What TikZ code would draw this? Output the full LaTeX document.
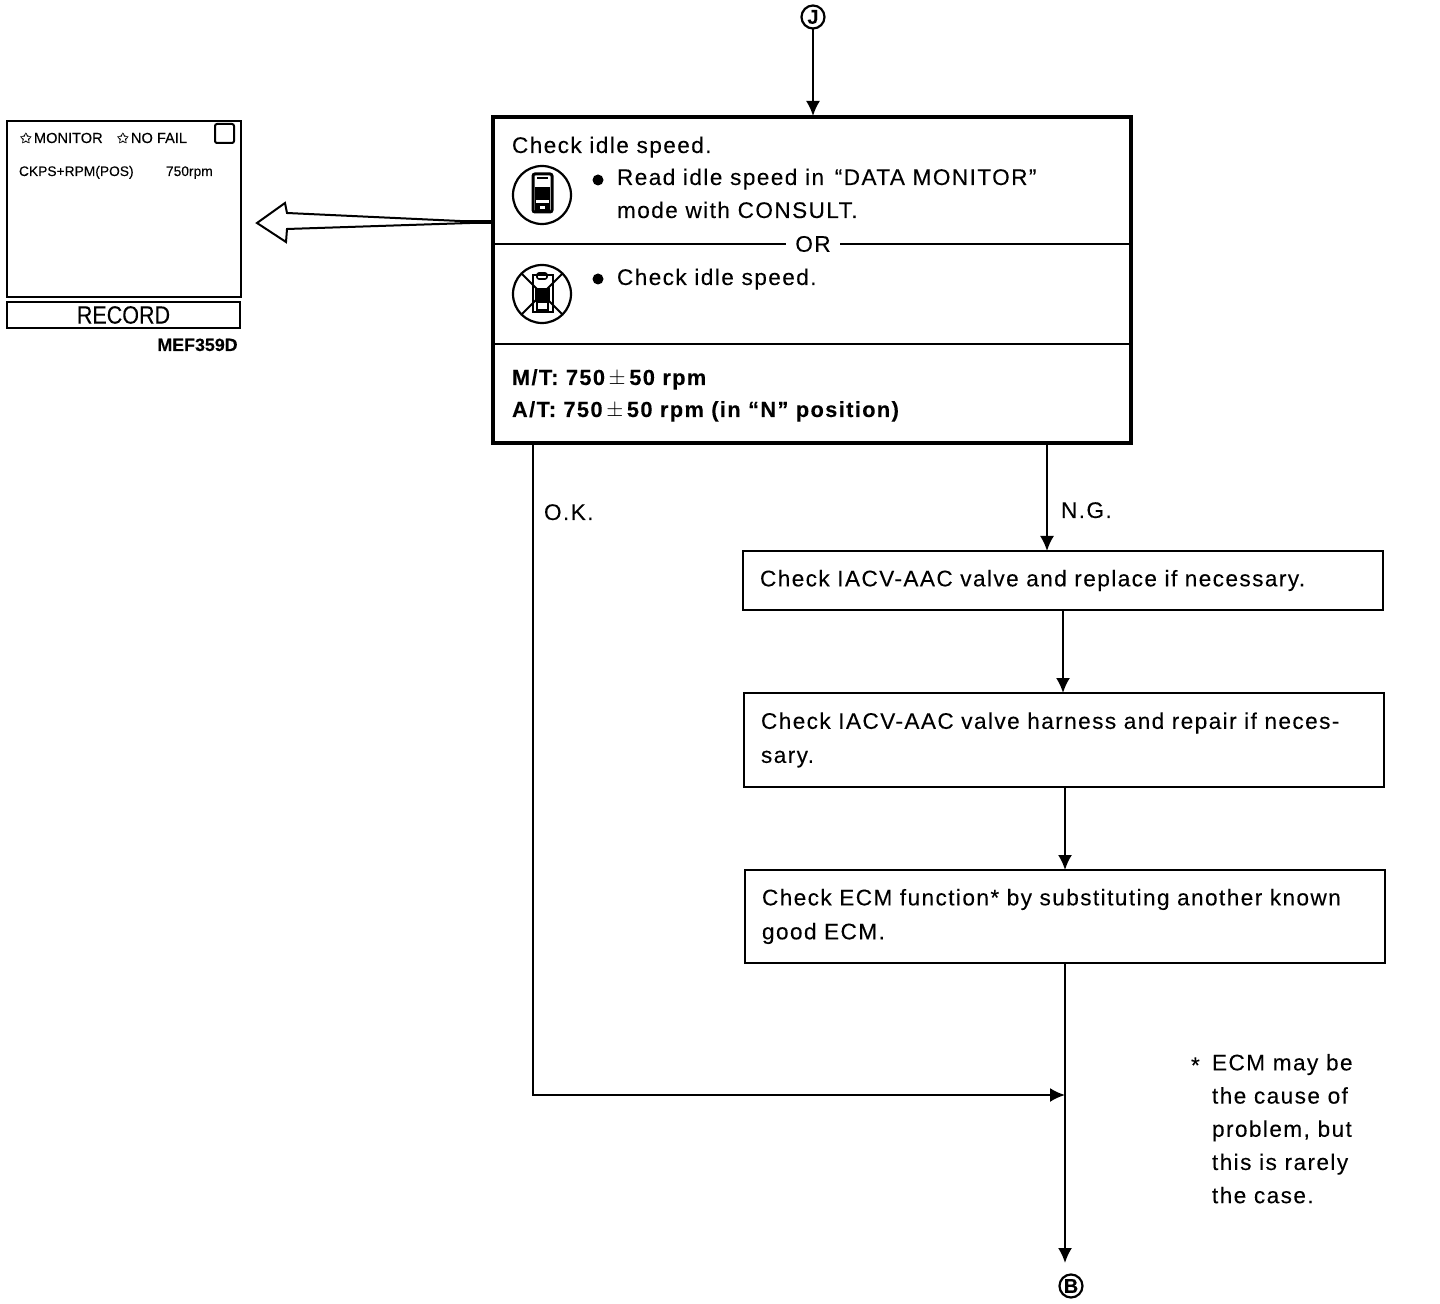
\documentclass[tikz,border=0pt]{standalone}
\usepackage{fontspec}
\setmainfont[LetterSpace=6.3,FakeBold=0.12]{Liberation Sans}
\newfontfamily\plainfont[FakeBold=0.1]{Liberation Sans}
\newfontfamily\symfont[FakeBold=0.3]{DejaVu Sans}
\usetikzlibrary{arrows.meta,calc}
\tikzset{
  flowbox/.style={draw=black,line width=1pt,fill=white,inner sep=0pt,outer sep=0pt,align=left,font=\fontsize{11.3}{17}\selectfont},
  lab/.style={anchor=base west,inner sep=0pt,outer sep=0pt,font=\fontsize{11.3}{17}\selectfont},
  boldlab/.style={lab,font=\fontsize{10.9}{16}\selectfont\bfseries},
  small/.style={anchor=base west,inner sep=0pt,outer sep=0pt,font=\plainfont\fontsize{7.3}{8}\selectfont},
  conn/.style={line width=1pt,-{Latex[length=7.5pt,width=7pt]}},
  plain/.style={line width=1pt},
  ring/.style={circle,draw=black,line width=1.1pt,inner sep=0pt,outer sep=0pt,minimum size=11.5pt,font=\plainfont\bfseries\fontsize{10}{10}\selectfont},
  icon/.style={circle,draw=black,line width=1.1pt,minimum size=29pt,inner sep=0pt,outer sep=0pt},
  bullet/.style={circle,fill=black,minimum size=5.5pt,inner sep=0pt,outer sep=0pt},
}
\begin{document}
\begin{tikzpicture}[x=0.5pt,y=-0.5pt]
\useasboundingbox (0,0) rectangle (1440,1304);
\fill[white] (0,0) rectangle (1440,1304);
% main box
\node[draw=black,line width=2pt,inner sep=0pt,outer sep=0pt,minimum width=319pt,minimum height=163pt] (main) at (812,280) {};
\coordinate (okstart) at (533,443);
\coordinate (ngstart) at (1047,443);
\coordinate (ngend) at (1047,551);
\coordinate (hollowstart) at (493,222);
\node[ring] (J) at (813,17) {J};
\draw[conn] (J) -- (813,116);
% dividers
\coordinate (divL) at (493,244);
\coordinate (divR) at (1131,244);
\coordinate (div2L) at (493,344);
\coordinate (div2R) at (1131,344);
\draw[plain] (divL) -- (divR);
\draw[plain] (div2L) -- (div2R);
\node[fill=white,inner sep=0pt,minimum width=27pt,minimum height=8pt,font=\fontsize{11.3}{12}\selectfont] (or) at (813,244) {OR};
\node[lab] (t1) at (512,153) {Check idle speed.};
\node[bullet] (b1) at (598,180) {};
\node[lab] (t2) at (617,185) {Read idle speed in \kern1.5pt“DATA MONITOR”\kern1pt};
\node[lab] (t3) at (617,218) {mode with CONSULT.};
\node[bullet] (b2) at (598,279) {};
\node[lab] (t4) at (617,285) {Check idle speed.};
\node[boldlab] (t5) at (512,385) {M/T: 750\,$\pm$\,50 rpm};
\node[boldlab] (t6) at (512,417) {A/T: 750\,$\pm$\,50 rpm (in “N” position)};
% icons
\node[icon] (ic1) at (542,195) {};
\draw[line width=1.5pt,fill=white,rounded corners=1pt] (533,174) rectangle (552,212);
\fill[black] (535,187) rectangle (550,212);
\fill[white] (536,200) rectangle (549,203);
\fill[white] (540,206) rectangle (545,209);
\draw[line width=.6pt] (537,178) -- (548,178);
\node[icon] (ic2) at (542,294) {};
\draw[line width=.6pt] (533,275) rectangle (553,312);
\fill[black] (535,288) rectangle (550,302);
\draw[line width=.9pt] (537,302) rectangle (548,310);
\draw[line width=.8pt,rounded corners=1pt] (537,273) rectangle (547,279);
\draw[line width=1pt] (ic2.north west) -- (ic2.south east);
\draw[line width=1pt] (ic2.north east) -- (ic2.south west);
% hollow arrow
\draw[line width=1pt,fill=white,line join=miter] (hollowstart) -- (460,221) -- (287,213) -- (285,203) -- (257,223) -- (286,242) -- (287,229) -- (470,223) -- cycle;
\draw[line width=1.6pt] (460,222) -- (hollowstart);
% screen
\node[draw=black,line width=.8pt,inner sep=0pt,outer sep=0pt,minimum width=117pt,minimum height=88pt] (screen) at (124,209) {};
\node[draw=black,line width=.9pt,inner sep=0pt,outer sep=0pt,minimum width=116.5pt,minimum height=13pt] (record) at (123.5,315) {};
\node[inner sep=0pt,font=\plainfont\fontsize{12.5}{13}\selectfont,xscale=.86] (rectxt) at (123.5,315) {RECORD};
\node[draw=black,line width=1pt,rounded corners=1pt,minimum size=9.5pt,inner sep=0pt] (sq) at (224.5,133.5) {};
\node[small,font=\symfont\fontsize{7}{7}\selectfont] (s1) at (20,143) {✩};
\node[small] (s2) at (34,143) {MONITOR};
\node[small,font=\symfont\fontsize{7}{7}\selectfont] (s3) at (117,143) {✩};
\node[small] (s4) at (131,143) {NO FAIL};
\node[small,font=\plainfont\fontsize{6.9}{7}\selectfont] (s5) at (19,176) {CKPS+RPM(POS)};
\node[small,font=\plainfont\fontsize{6.9}{7}\selectfont] (s6) at (166,176) {750rpm};
\node[anchor=base east,inner sep=0pt,font=\plainfont\bfseries\fontsize{8.9}{9}\selectfont] (code) at (238,351) {MEF359D};
% flow boxes
\node[flowbox,minimum width=320pt,minimum height=29.5pt,text width=303pt] (c1) at (1063,580.5) {Check IACV-AAC valve and replace if necessary.};
\node[flowbox,minimum width=320pt,minimum height=47pt,text width=303pt] (c2) at (1064,740) {Check IACV-AAC valve harness and repair if neces-\\sary.};
\node[flowbox,minimum width=320pt,minimum height=46.5pt,text width=303pt] (c3) at (1065,916.5) {Check ECM function* by substituting another known\\good ECM.};
\node[ring] (B) at (1071,1286) {B};
\coordinate (join) at (1065,1095);
\coordinate (endB) at (1065,1263);
% connectors
\draw[conn] (ngstart) -- (ngend);
\draw[conn] (1063,610) -- (c2.north -| 1063,0);
\draw[conn] (1065,787) -- (c3.north);
\draw[line width=1pt] (c3.south) -- (join);
\draw[conn] (join) -- (endB);
\draw[conn] (okstart) |- (join);
\node[lab] (ok) at (544,520) {O.K.};
\node[lab] (ng) at (1061,518) {N.G.};
% footnote
\node[lab] (star) at (1191,1073) {*};
\node[lab,align=left,anchor=north west,font=\fontsize{11.3}{16.6}\selectfont] (foot) at (1212,1054) {ECM may be\\the cause of\\problem, but\\this is rarely\\the case.};
\end{tikzpicture}
\end{document}
